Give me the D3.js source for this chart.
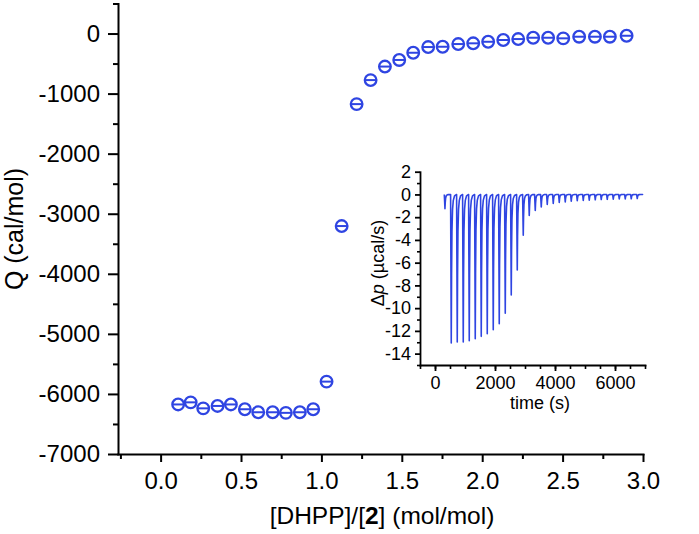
<!DOCTYPE html>
<html>
<head>
<meta charset="utf-8">
<script src="https://cdn.jsdelivr.net/npm/d3@7"></script>
<style>
  body { margin: 0; background: #fff; }
  text { font-family: "Liberation Sans", Arial, sans-serif; }
</style>
</head>
<body>
<div id="chart"></div>
<script>
// main titration curve: molar ratio vs integrated heat
const ratio = [0.109, 0.187, 0.265, 0.354, 0.437, 0.524, 0.607, 0.697, 0.779, 0.866, 0.949,
  1.032, 1.126, 1.219, 1.306, 1.395, 1.484, 1.571, 1.664, 1.754, 1.851, 1.944, 2.037,
  2.131, 2.224, 2.317, 2.410, 2.504, 2.603, 2.701, 2.794, 2.898]
const heat = [-6175, -6140, -6240, -6200, -6175, -6255, -6305, -6305, -6315, -6305, -6255,
  -5795, -3205, -1175, -775, -550, -440, -320, -225, -220, -175, -163, -137,
  -108, -92, -70, -70, -80, -53, -53, -53, -37]
const xTicks = [0, 0.5, 1, 1.5, 2, 2.5, 3]
const yTicks = [0, -1000, -2000, -3000, -4000, -5000, -6000, -7000]

// inset: raw thermogram, injection times and peak depths
const injTime = [310, 520, 720, 920, 1120, 1320, 1520, 1720, 1920, 2120, 2320, 2520,
  2720, 2920, 3120, 3320, 3520, 3720, 3920, 4120, 4320, 4520, 4720, 4920, 5120,
  5320, 5520, 5720, 5920, 6120, 6320, 6520, 6720]
const injPeak = [-1.25, -13.06, -12.98, -12.98, -12.86, -12.69, -12.48, -12.25, -11.9,
  -11.37, -10.44, -8.84, -6.65, -3.59, -1.84, -1.4, -1.11, -0.88, -0.8, -0.7, -0.65,
  -0.6, -0.55, -0.52, -0.5, -0.47, -0.45, -0.43, -0.42, -0.4, -0.4, -0.38, -0.36]
// shape of one injection peak (seconds after injection, fraction of depth)
const peakDt = [0, 22, 32, 45, 65, 90, 130, 199]
const peakFrac = [0, 1, 0.55, 0.25, 0.1, 0.04, 0.01, 0]
const insetXTicks = [0, 2000, 4000, 6000]
const insetYTicks = [2, 0, -2, -4, -6, -8, -10, -12, -14]

const width = 699
const height = 534
const blue = '#2f45e2'
const font = '"Liberation Sans", Arial, sans-serif'

const svg = d3
  .select('#chart')
  .append('svg')
  .attr('width', width)
  .attr('height', height)

const x = d3.scaleLinear().domain([-0.265, 3.0]).range([118, 643])
const y = d3.scaleLinear().domain([-7000, 500]).range([454, 3.5])

function styleAxis(g, size) {
  g.attr('font-family', font).attr('font-size', size)
  g.selectAll('path, line').attr('stroke', '#000').attr('stroke-width', 2)
  g.select('.domain').attr('stroke-linecap', 'square')
  g.selectAll('text').attr('fill', '#000')
}

// main axes, minor ticks first
svg
  .append('g')
  .attr('transform', 'translate(0,454)')
  .call(d3.axisBottom(x).tickValues(d3.range(-0.25, 3, 0.5)).tickSize(5).tickFormat('').tickSizeOuter(0))
  .call(g => g.select('.domain').remove())
  .call(g => styleAxis(g, 24))

svg
  .append('g')
  .attr('transform', 'translate(118,0)')
  .call(d3.axisLeft(y).tickValues(d3.range(500, -7000, -1000)).tickSize(5).tickFormat('').tickSizeOuter(0))
  .call(g => g.select('.domain').remove())
  .call(g => styleAxis(g, 24))

svg
  .append('g')
  .attr('transform', 'translate(0,454)')
  .call(d3.axisBottom(x).tickValues(xTicks).tickSize(8).tickPadding(10).tickFormat(d3.format('.1f')).tickSizeOuter(0))
  .call(g => styleAxis(g, 24))

svg
  .append('g')
  .attr('transform', 'translate(118,0)')
  .call(d3.axisLeft(y).tickValues(yTicks).tickSize(10).tickPadding(8).tickFormat(d3.format('d')).tickSizeOuter(0))
  .call(g => styleAxis(g, 24))
  .call(g => g.selectAll('.tick text').text(d => String(d).replace('−', '-')))

// axis titles
svg
  .append('text')
  .attr('transform', 'translate(23,229) rotate(-90)')
  .attr('text-anchor', 'middle')
  .attr('font-size', 25)
  .text('Q (cal/mol)')

const xTitle = svg
  .append('text')
  .attr('x', 382)
  .attr('y', 524)
  .attr('text-anchor', 'middle')
  .attr('font-size', 24.5)
xTitle.append('tspan').text('[DHPP]/[')
xTitle.append('tspan').attr('font-weight', 'bold').text('2')
xTitle.append('tspan').text('] (mol/mol)')

// data markers: open circle with a horizontal bar
const marks = svg
  .append('g')
  .selectAll('g')
  .data(ratio.map((r, i) => [r, heat[i]]))
  .join('g')
  .attr('transform', d => `translate(${x(d[0])},${y(d[1])})`)

marks
  .append('circle')
  .attr('r', 5.8)
  .attr('fill', 'none')
  .attr('stroke', blue)
  .attr('stroke-width', 2.3)

marks
  .append('line')
  .attr('x1', -5.8)
  .attr('x2', 5.8)
  .attr('stroke', blue)
  .attr('stroke-width', 2)

// inset
const xi = d3.scaleLinear().domain([-500, 7000]).range([420, 645])
const yi = d3.scaleLinear().domain([-15, 2]).range([365, 171.7])

svg
  .append('g')
  .attr('transform', 'translate(0,365)')
  .call(d3.axisBottom(xi).tickValues(d3.range(-500, 7001, 500)).tickSize(4).tickFormat('').tickSizeOuter(0))
  .call(g => g.select('.domain').remove())
  .call(g => styleAxis(g, 18))
  .call(g => g.selectAll('line').attr('stroke-width', 1.6))

svg
  .append('g')
  .attr('transform', 'translate(420,0)')
  .call(d3.axisLeft(yi).tickValues(d3.range(1, -16, -2)).tickSize(3).tickFormat('').tickSizeOuter(0))
  .call(g => g.select('.domain').remove())
  .call(g => styleAxis(g, 18))
  .call(g => g.selectAll('line').attr('stroke-width', 1.6))

svg
  .append('g')
  .attr('transform', 'translate(0,365)')
  .call(d3.axisBottom(xi).tickValues(insetXTicks).tickSize(6).tickPadding(5).tickFormat(d3.format('d')).tickSizeOuter(0))
  .call(g => styleAxis(g, 18))
  .call(g => g.selectAll('path, line').attr('stroke-width', 1.8))

svg
  .append('g')
  .attr('transform', 'translate(420,0)')
  .call(d3.axisLeft(yi).tickValues(insetYTicks).tickSize(5).tickPadding(4).tickFormat(d3.format('d')).tickSizeOuter(0))
  .call(g => styleAxis(g, 18))
  .call(g => g.selectAll('path, line').attr('stroke-width', 1.8))
  .call(g => g.selectAll('.tick text').text(d => String(d).replace('−', '-')))

const trace = []
injTime.forEach((t, i) => {
  peakDt.forEach((dt, j) => trace.push([t + dt, injPeak[i] * peakFrac[j]]))
})
trace.push([6830, 0])

svg
  .append('path')
  .datum(trace)
  .attr('fill', 'none')
  .attr('stroke', blue)
  .attr('stroke-width', 1.6)
  .attr('stroke-linejoin', 'round')
  .attr('d', d3.line().x(d => xi(d[0])).y(d => yi(d[1])))

const yiTitle = svg
  .append('text')
  .attr('transform', 'translate(384,263) rotate(-90)')
  .attr('text-anchor', 'middle')
  .attr('font-size', 18)
yiTitle.append('tspan').text('Δ')
yiTitle.append('tspan').attr('font-style', 'italic').text('p')
yiTitle.append('tspan').text(' (µcal/s)')

svg
  .append('text')
  .attr('x', 540)
  .attr('y', 409)
  .attr('text-anchor', 'middle')
  .attr('font-size', 18)
  .text('time (s)')
</script>
</body>
</html>
